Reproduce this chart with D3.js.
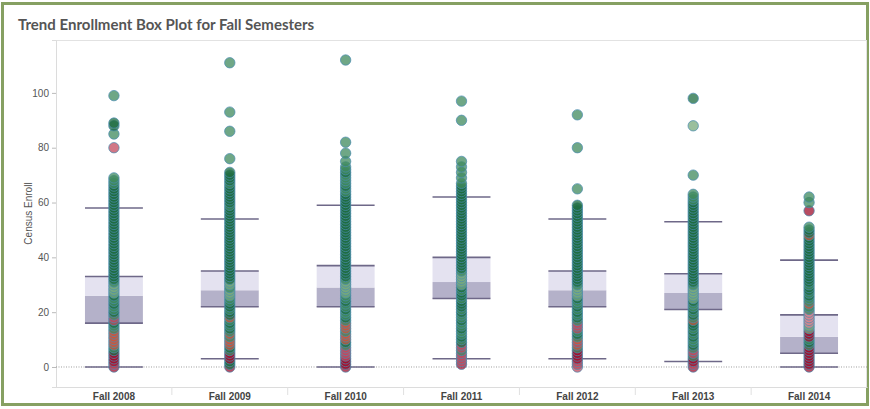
<!DOCTYPE html>
<html><head><meta charset="utf-8">
<script src="https://cdn.jsdelivr.net/npm/d3@7"></script>
<style>body{margin:0;background:#fff}svg{display:block}</style>
</head><body><svg id="c" width="870" height="409"></svg>
<script>
const terms = ["Fall 2008","Fall 2009","Fall 2010","Fall 2011","Fall 2012","Fall 2013","Fall 2014"];
const lowWhisker = [0, 3, 0, 3, 3, 2, 0];
const q1 = [16, 22, 22, 25, 22, 21, 5];
const median = [26, 28, 29, 31, 28, 27, 11];
const q3 = [33, 35, 37, 40, 35, 34, 19];
const highWhisker = [58, 54, 59, 62, 54, 53, 39];
const yTicks = [0, 20, 40, 60, 80, 100];
// points: "value:tone" ; tones g dark green, m mid green, l light green, r red, d dark red, o orange-red, p pink
const pts2008 = "0:d 1:r 2:d 3:d 4:d 5:d 6:g 7:m 8:o 9:o 10:o 11:o 12:o 13:o 14:m 15:m 16:g 17:r 18:r 19:m 20:g 21:m 22:m 23:g 24:m 25:m 26:g 27:l 28:l 29:l 30:l 31:m 32:g 33:g 34:g 35:g 36:g 37:g 38:g 39:g 40:g 41:g 42:g 43:g 44:g 45:g 46:g 47:g 48:g 49:g 50:g 51:g 52:g 53:g 54:g 55:g 56:g 57:g 58:g 59:g 60:g 61:g 62:g 63:g 64:g 65:g 66:g 67:m 68:m 69:m 80:r 85:m 88:g 89:g 99:m";
const pts2009 = "0:d 1:g 2:g 3:d 4:d 5:d 6:m 7:g 8:o 9:o 10:o 11:m 12:o 13:m 14:g 15:m 16:g 17:m 18:o 19:g 20:g 21:m 22:g 23:g 24:m 25:m 26:l 27:l 28:l 29:m 30:l 31:l 32:g 33:g 34:g 35:g 36:g 37:g 38:g 39:g 40:g 41:g 42:g 43:g 44:g 45:g 46:g 47:g 48:g 49:g 50:g 51:g 52:g 53:g 54:g 55:g 56:g 57:g 58:g 59:m 60:g 61:g 62:g 63:g 64:g 65:g 66:g 67:m 68:g 69:g 70:g 71:g 76:m 86:m 93:m 111:m";
const pts2010 = "0:d 1:d 2:d 3:d 4:r 5:r 6:r 7:r 8:m 9:g 10:o 11:o 12:o 13:m 14:o 15:o 16:o 17:m 18:g 19:m 20:m 21:g 22:m 23:m 24:g 25:m 26:m 27:l 28:l 29:l 30:l 31:l 32:m 33:g 34:g 35:g 36:g 37:g 38:g 39:g 40:g 41:g 42:g 43:g 44:g 45:g 46:g 47:g 48:g 49:g 50:g 51:g 52:g 53:g 54:g 55:g 56:g 57:g 58:g 59:g 60:g 61:g 62:g 63:g 64:m 65:m 66:g 67:m 68:m 69:m 70:m 71:g 72:m 73:m 75:m 78:m 82:m 112:m";
const pts2011 = "1:d 2:r 3:r 4:r 5:r 6:m 7:r 8:r 9:g 10:m 11:g 12:m 13:m 14:g 15:m 16:m 17:g 18:m 19:m 20:g 21:m 22:g 23:g 24:g 25:m 26:g 27:g 28:m 29:g 30:l 31:l 32:l 33:l 34:l 35:m 36:g 37:g 38:g 39:g 40:g 41:g 42:g 43:g 44:g 45:g 46:g 47:g 48:g 49:g 50:g 51:g 52:g 53:g 54:g 55:g 56:g 57:g 58:g 59:g 60:g 61:g 62:g 63:g 64:g 65:g 66:g 67:m 69:m 71:m 73:m 75:m 90:m 97:m";
const pts2012 = "0:r 1:r 2:r 3:d 4:d 5:d 6:d 7:m 8:o 9:r 10:o 11:m 12:g 13:m 14:r 15:r 16:r 17:m 18:g 19:m 20:g 21:m 22:g 23:m 24:m 25:g 26:l 27:l 28:l 29:l 30:m 31:g 32:g 33:g 34:g 35:g 36:g 37:g 38:g 39:g 40:g 41:g 42:g 43:g 44:g 45:g 46:g 47:g 48:g 49:g 50:g 51:g 52:g 53:g 54:g 55:g 56:g 57:g 58:g 59:g 65:m 80:m 92:m";
const pts2013 = "0:d 1:r 2:d 3:d 4:m 5:r 6:r 7:m 8:g 9:m 10:m 11:g 12:m 13:g 14:m 15:g 16:g 17:o 18:m 19:g 20:m 21:g 22:m 23:m 24:g 25:l 26:l 27:l 28:l 29:l 30:m 31:g 32:g 33:g 34:g 35:g 36:g 37:g 38:g 39:g 40:g 41:g 42:g 43:g 44:g 45:g 46:g 47:g 48:g 49:g 50:g 51:g 52:g 53:g 54:g 55:g 56:g 57:g 58:g 59:g 60:g 61:m 62:m 63:m 70:m 88:l 98:g";
const pts2014 = "0:d 1:d 2:d 3:d 4:d 5:d 6:d 7:d 8:m 9:g 10:m 11:d 12:d 13:d 14:l 15:l 16:p 17:p 18:p 19:p 20:p 21:m 22:m 23:o 24:m 25:m 26:g 27:m 28:g 29:g 30:m 31:g 32:g 33:g 34:g 35:g 36:g 37:g 38:g 39:g 40:g 41:g 42:g 43:g 44:g 45:g 46:g 47:g 48:o 49:g 50:g 51:m 57:d 60:m 62:m";
const pointStrings = [pts2008, pts2009, pts2010, pts2011, pts2012, pts2013, pts2014];
const toneColors = {g:"#1d6c40", m:"#3f8a5e", l:"#78a97c", r:"#c24a5e", d:"#a0102e", o:"#c8573d", p:"#d6848f"};

const svg = d3.select("#c");
const M = {left:56, right:867, top:40, bottom:387};

svg.append("rect").attr("x",2.5).attr("y",3.5).attr("width",865).attr("height",401)
  .attr("fill","#fff").attr("stroke","#86a062").attr("stroke-width",3);

svg.append("text").attr("x",18).attr("y",30).text("Trend Enrollment Box Plot for Fall Semesters")
  .attr("font-family","Lato, 'Open Sans', sans-serif").attr("font-weight","bold").attr("font-size",15).attr("fill","#555");

const x = d3.scaleBand().domain(terms).range([M.left, M.right]);
const y = d3.scaleLinear().domain([-7.3, 119.3]).range([M.bottom, M.top]);

// plot frame
svg.append("rect").attr("x",M.left+0.5).attr("y",M.top+0.5).attr("width",M.right-M.left-1).attr("height",M.bottom-M.top)
  .attr("fill","none").attr("stroke","#e2e2e2");

// y axis
const yAxis = d3.axisLeft(y).tickValues(yTicks).tickSize(4).tickPadding(3);
const ya = svg.append("g").attr("transform",`translate(${M.left},0)`).call(yAxis);
ya.select(".domain").attr("stroke","#dcdcdc");
ya.selectAll(".tick line").attr("stroke","#bbb");
ya.selectAll(".tick text").attr("font-family","'Liberation Sans', Arial, sans-serif").attr("font-size",10).attr("fill","#555");

svg.append("text").attr("transform",`translate(32,${(M.top+M.bottom)/2}) rotate(-90)`).attr("text-anchor","middle")
  .attr("font-family","'Liberation Sans', Arial, sans-serif").attr("font-size",10).attr("fill","#555").text("Census Enroll");

// x axis
const xAxis = d3.axisBottom(x).tickSize(0).tickPadding(6);
const xa = svg.append("g").attr("transform",`translate(0,${M.bottom})`).call(xAxis);
xa.select(".domain").attr("stroke","#dcdcdc");
xa.selectAll(".tick text").attr("font-family","'Liberation Sans', Arial, sans-serif").attr("font-size",10).attr("font-weight","bold").attr("fill","#444");
svg.append("g").selectAll("line").data(terms.slice(1)).join("line")
  .attr("x1",d=>x(d)).attr("x2",d=>x(d)).attr("y1",M.bottom).attr("y2",M.bottom+8).attr("stroke","#e0e0e0");

// zero line
svg.append("line").attr("x1",M.left).attr("x2",M.right).attr("y1",y(0)).attr("y2",y(0))
  .attr("stroke","#888").attr("stroke-dasharray","1,1.5").attr("stroke-width",0.8);

// boxes
const bw = x.bandwidth()*0.5;
const boxes = svg.append("g");
terms.forEach((t,i)=>{
  const cx = x(t)+x.bandwidth()/2, x0 = cx-bw/2;
  boxes.append("rect").attr("x",x0).attr("width",bw).attr("y",y(median[i])).attr("height",y(q1[i])-y(median[i])).attr("fill","#b4b1c9");
  boxes.append("rect").attr("x",x0).attr("width",bw).attr("y",y(q3[i])).attr("height",y(median[i])-y(q3[i])).attr("fill","#e4e2f0");
  [lowWhisker[i], q1[i], q3[i], highWhisker[i]].forEach(v=>{
    boxes.append("line").attr("x1",x0).attr("x2",x0+bw).attr("y1",y(v)).attr("y2",y(v)).attr("stroke","#6e6888").attr("stroke-width",1.6);
  });
});

// points
const pg = svg.append("g");
terms.forEach((t,i)=>{
  const cx = x(t)+x.bandwidth()/2;
  const pts = pointStrings[i].split(" ").map(s=>{const [v,c]=s.split(":");return {v:+v,c};});
  pg.append("g").selectAll("circle").data(pts).join("circle")
    .attr("cx",cx).attr("cy",d=>y(d.v)).attr("r",5.2)
    .attr("fill",d=>toneColors[d.c]).attr("fill-opacity",0.75)
    .attr("stroke","#4a8cb0").attr("stroke-opacity",0.8).attr("stroke-width",0.9);
});
</script></body></html>
